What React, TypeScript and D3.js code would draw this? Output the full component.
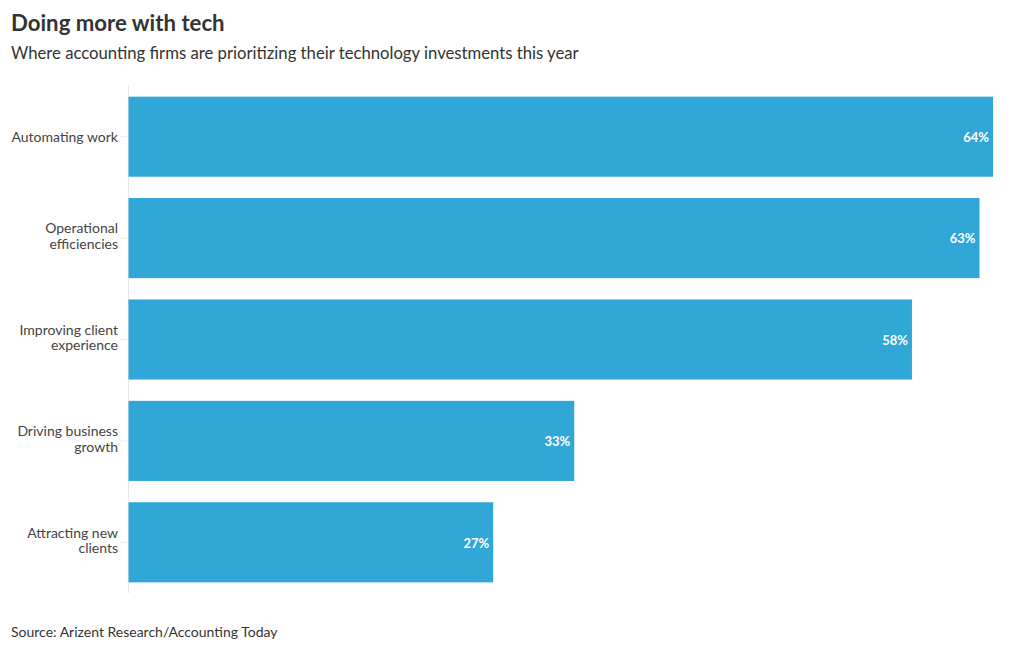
import React from "react";
import * as d3 from "d3";

const categories = [
  "Automating work",
  "Operational\nefficiencies",
  "Improving client\nexperience",
  "Driving business\ngrowth",
  "Attracting new\nclients",
];
const values = [64, 63, 58, 33, 27];
const title = "Doing more with tech";
const subtitle = "Where accounting firms are prioritizing their technology investments this year";
const source = "Source: Arizent Research/Accounting Today";

const W = 1020;
const H = 650;
const FONT = "Lato, 'Open Sans', sans-serif";

export default function App() {
  const x = d3.scaleLinear().domain([0, 64]).range([128.5, 993]);
  const y = d3
    .scaleBand<string>()
    .domain(categories)
    .range([86, 593])
    .paddingInner(0.21)
    .paddingOuter(0.105);

  return (
    <svg
      width={W}
      height={H}
      style={{ position: "absolute", left: 0, top: 0, background: "#fff" }}
      fontFamily={FONT}
    >
      <text x={11} y={31} fontSize={22.2} fontWeight={700} fill="#333">
        {title}
      </text>
      <text x={11} y={59} fontSize={16.7} fill="#333">
        {subtitle}
      </text>

      <line x1={128.5} x2={128.5} y1={85} y2={593} stroke="#e6e6e6" strokeWidth={1} />

      {categories.map((c, i) => {
        const cy = (y(c) ?? 0) + y.bandwidth() / 2;
        const lines = c.split("\n");
        const lh = 15.5;
        const off = lines.length > 1 ? -1 : 1.5;
        const startY = cy + off - ((lines.length - 1) * lh) / 2;
        return (
          <g key={c}>
            <line x1={120} x2={128} y1={cy} y2={cy} stroke="#eeeeee" />
            <text textAnchor="end" fontSize={14} fill="#444" dominantBaseline="middle">
              {lines.map((l, j) => (
                <tspan key={j} x={118} y={startY + j * lh}>
                  {l}
                </tspan>
              ))}
            </text>
            <rect
              x={x(0)}
              y={y(c)}
              width={x(values[i]) - x(0)}
              height={y.bandwidth()}
              fill="#31a7d8"
            />
            <text
              x={x(values[i]) - 4}
              y={cy + 2}
              textAnchor="end"
              dominantBaseline="middle"
              fontSize={13}
              fontWeight={700}
              fill="#fff"
            >
              {values[i]}%
            </text>
          </g>
        );
      })}

      <text x={11} y={637} fontSize={14} fill="#333">
        {source}
      </text>
    </svg>
  );
}
